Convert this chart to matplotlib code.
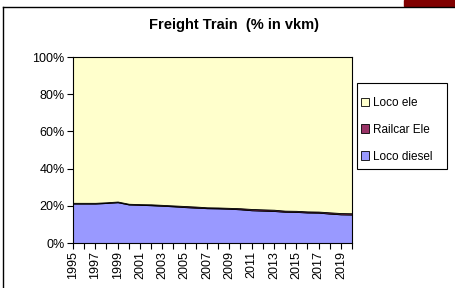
import numpy as np
import matplotlib
matplotlib.use("Agg")
import matplotlib.pyplot as plt
from matplotlib.patches import Patch, Rectangle
from matplotlib.lines import Line2D

plt.rcParams['font.family'] = ['Liberation Sans', 'DejaVu Sans']

years = list(range(1995, 2021))
# shares in % of vehicle-km
loco_diesel = [21.2, 21.2, 21.2, 21.5, 21.9, 20.7, 20.5, 20.3, 20.0, 19.7,
               19.3, 19.0, 18.7, 18.6, 18.4, 18.1, 17.6, 17.4, 17.2, 16.8,
               16.7, 16.4, 16.3, 15.8, 15.4, 15.3]
railcar_ele = [0.4, 0.4, 0.4, 0.4, 0.4, 0.4, 0.4, 0.5, 0.5, 0.5,
               0.6, 0.6, 0.5, 0.5, 0.5, 0.6, 0.7, 0.7, 0.7, 0.6,
               0.6, 0.6, 0.6, 0.7, 0.7, 0.7]
loco_ele = [100 - d - r for d, r in zip(loco_diesel, railcar_ele)]

labels = ['Loco diesel', 'Railcar Ele', 'Loco ele']
colors = ['#9999FF', '#993366', '#FFFFCC']

fig = plt.figure(figsize=(4.55, 2.88), dpi=100)
ax = fig.add_axes([73/455, 1 - 243/288, 279/455, 186/288])

ax.stackplot(years, loco_diesel, railcar_ele, loco_ele, colors=colors,
             edgecolor='black', linewidth=0.6)

ax.set_xlim(1995, 2020)
ax.set_ylim(0, 100)
ax.set_yticks(range(0, 101, 20))
ax.set_yticklabels(['{}%'.format(v) for v in range(0, 101, 20)], fontsize=9)
ax.set_xticks(years)
ax.set_xticklabels([str(y) if (y - 1995) % 2 == 0 and y < 2020 else '' for y in years],
                   rotation=90, fontsize=9)
ax.tick_params(axis='both', direction='out', length=4, width=0.8, pad=2)
for s in ax.spines.values():
    s.set_color('black')
    s.set_linewidth(0.8)

fig.text(234/455, 1 - 25/288, 'Freight Train  (% in vkm)', ha='center', va='center',
         fontsize=10.5, fontweight='bold')

# legend box drawn separately (Excel puts more room above the entries)
fig.add_artist(Rectangle((357/455, 1 - 169/288), 90/455, 86/288, transform=fig.transFigure,
                         facecolor='white', edgecolor='black', linewidth=0.8))
handles = [Patch(facecolor=colors[i], edgecolor='black', linewidth=0.6) for i in (2, 1, 0)]
leg = fig.legend(handles, [labels[i] for i in (2, 1, 0)],
                 loc='upper left', bbox_to_anchor=(361/455, 1 - 97/288),
                 fontsize=8.5, frameon=False,
                 handlelength=0.7, handleheight=0.7, handletextpad=0.3,
                 labelspacing=1.25, borderpad=0, borderaxespad=0)

# outer chart border and corner block
fig.add_artist(Line2D([3/455, 3/455], [0, 1 - 7/288], color='black', lw=1))
fig.add_artist(Line2D([3/455, 1], [1 - 7/288, 1 - 7/288], color='black', lw=1))
fig.add_artist(Rectangle((404/455, 1 - 6/288), 51/455, 6/288, color='#800000',
                         transform=fig.transFigure))

fig.savefig('out.png', dpi=100)
